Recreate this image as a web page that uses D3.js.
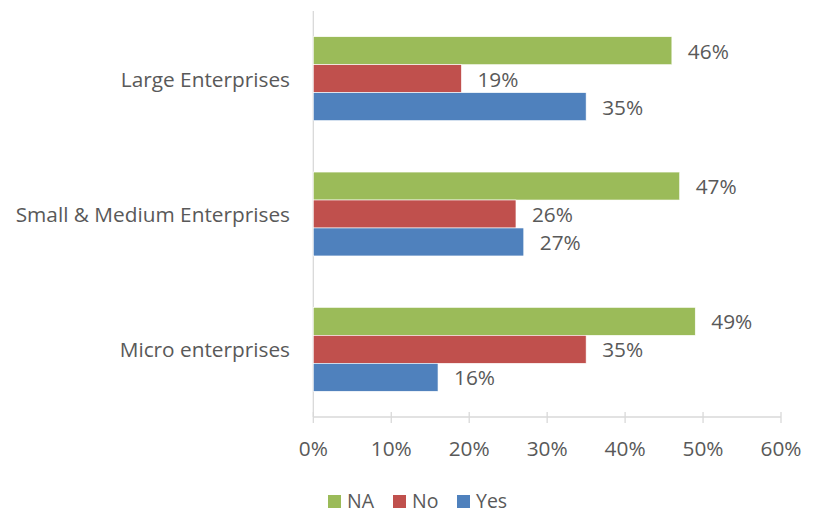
<!DOCTYPE html>
<html>
<head>
<meta charset="utf-8">
<script src="https://cdn.jsdelivr.net/npm/d3@7"></script>
<style>
  html, body { margin: 0; padding: 0; background: #fff; }
  svg text { font-family: "Open Sans", Lato, sans-serif; fill: #595959; }
</style>
</head>
<body>
<svg id="chart" width="821" height="514"></svg>
<script>
// Enterprise size categories, top to bottom
const categories = ["Large Enterprises", "Small & Medium Enterprises", "Micro enterprises"];
// Answer series, drawn top to bottom within each group
const seriesNames = ["NA", "No", "Yes"];
const naValues = [46, 47, 49];
const noValues = [19, 26, 35];
const yesValues = [35, 27, 16];
const tickValues = [0, 10, 20, 30, 40, 50, 60];

const colors = { NA: "#9BBB59", No: "#C0504D", Yes: "#4F81BD" };
const seriesValues = { NA: naValues, No: noValues, Yes: yesValues };

const svg = d3.select("#chart");
const plotLeft = 313.3, plotRight = 781, plotTop = 11, plotBottom = 417;
const fontSize = 20.8;

const x = d3.scaleLinear().domain([0, 60]).range([plotLeft, plotRight]);
const y0 = d3.scaleBand().domain(categories).range([plotTop, plotBottom]).paddingInner(0.38).paddingOuter(0.19);
const y1 = d3.scaleBand().domain(seriesNames).range([0, y0.bandwidth()]);

// X axis line and crossing ticks
const axisG = svg.append("g");
axisG.append("line")
  .attr("x1", plotLeft).attr("x2", plotRight).attr("y1", plotBottom).attr("y2", plotBottom)
  .attr("stroke", "#D9D9D9").attr("stroke-width", 1.3);
axisG.selectAll("line.tick").data(tickValues).join("line")
  .attr("class", "tick")
  .attr("x1", d => x(d)).attr("x2", d => x(d))
  .attr("y1", plotBottom - 5).attr("y2", plotBottom + 6)
  .attr("stroke", "#D9D9D9").attr("stroke-width", 1.3);
axisG.selectAll("text").data(tickValues).join("text")
  .attr("x", d => x(d)).attr("y", 448)
  .attr("text-anchor", "middle").attr("dominant-baseline", "central")
  .attr("font-size", fontSize)
  .text(d => d + "%");

// Category axis line
svg.append("line")
  .attr("x1", plotLeft).attr("x2", plotLeft).attr("y1", plotTop).attr("y2", plotBottom)
  .attr("stroke", "#D9D9D9").attr("stroke-width", 1.3);

// Category labels
svg.selectAll("text.cat").data(categories).join("text")
  .attr("class", "cat")
  .attr("x", 290)
  .attr("y", d => y0(d) + y0.bandwidth() / 2)
  .attr("text-anchor", "end").attr("dominant-baseline", "central")
  .attr("font-size", fontSize)
  .text(d => d);

// Bars and value labels
const rows = [];
categories.forEach((c, i) => {
  seriesNames.forEach(s => rows.push({ cat: c, series: s, value: seriesValues[s][i] }));
});

svg.selectAll("rect.bar").data(rows).join("rect")
  .attr("class", "bar")
  .attr("x", x(0))
  .attr("y", d => y0(d.cat) + y1(d.series))
  .attr("width", d => x(d.value) - x(0))
  .attr("height", y1.bandwidth())
  .attr("fill", d => colors[d.series])
  .attr("stroke", "#fff").attr("stroke-width", 0.6);

svg.selectAll("text.val").data(rows).join("text")
  .attr("class", "val")
  .attr("x", d => x(d.value) + 16)
  .attr("y", d => y0(d.cat) + y1(d.series) + y1.bandwidth() / 2)
  .attr("dominant-baseline", "central")
  .attr("font-size", fontSize)
  .text(d => d.value + "%");

// Legend
const legendX = [328, 393, 457];
const legend = svg.selectAll("g.legend").data(seriesNames).join("g")
  .attr("class", "legend")
  .attr("transform", (d, i) => `translate(${legendX[i]},495)`);
legend.append("rect").attr("width", 13).attr("height", 13).attr("fill", d => colors[d]);
legend.append("text").attr("x", 19).attr("y", 5.5)
  .attr("dominant-baseline", "central").attr("font-size", 19.5)
  .text(d => d);
</script>
</body>
</html>
